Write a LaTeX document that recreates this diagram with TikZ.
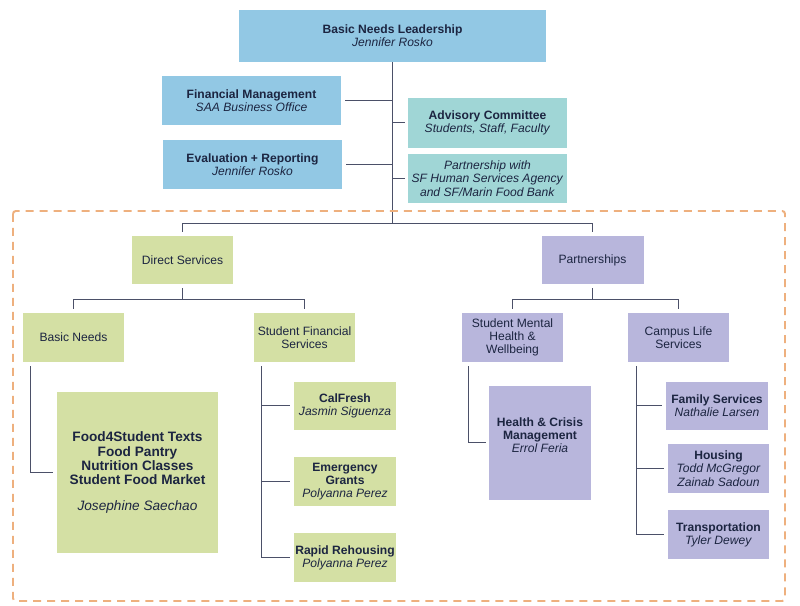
\documentclass[tikz,border=0pt]{standalone}
\usepackage{fontspec}
\setmainfont{Liberation Sans}
\usetikzlibrary{calc, arrows.meta}

\definecolor{bluefill}{RGB}{146,200,228}
\definecolor{tealfill}{RGB}{160,214,214}
\definecolor{greenfill}{RGB}{212,224,164}
\definecolor{lilacfill}{RGB}{184,182,220}
\definecolor{ink}{RGB}{28,37,65}
\definecolor{wire}{RGB}{75,80,104}
\definecolor{dashorange}{RGB}{238,176,126}

\begin{document}
\begin{tikzpicture}[x=0.025cm, y=-0.025cm,
		boxsize/.style 2 args={minimum width=#1*0.025cm, minimum height=#2*0.025cm},
		unit/.style={rectangle, inner sep=1pt, align=center, text=ink, font=\fontsize{8.6}{9.4}\selectfont},
		leadbox/.style={unit, fill=bluefill},
		advbox/.style={unit, fill=tealfill},
		directbox/.style={unit, fill=greenfill},
		partnerbox/.style={unit, fill=lilacfill},
		conn/.style={draw=wire, line width=0.9pt}]
					\useasboundingbox (0,0) rectangle (800,605);
					
					% leadership and advisors
					\node (lead) at (392.5,36) [leadbox, boxsize={307}{52}] {\textbf{Basic Needs Leadership}\\ \textit{Jennifer Rosko}};
					\node (fin) at (251.5,100.5) [leadbox, boxsize={179}{49}] {\textbf{Financial Management}\\ \textit{SAA Business Office}};
					\node (eval) at (252.5,164.5) [leadbox, boxsize={179}{49}] {\textbf{Evaluation + Reporting}\\ \textit{Jennifer Rosko}};
					\node (adv) at (487.5,122.5) [advbox, boxsize={159}{50}] {\textbf{Advisory Committee}\\ \textit{Students, Staff, Faculty}};
					\node (pship) at (487.5,178.5) [advbox, boxsize={159}{49}] {\textit{Partnership with}\\ \textit{SF Human Services Agency}\\ \textit{and SF/Marin Food Bank}};
					
					\coordinate (split) at (392.5,223.5);
					\draw[conn] (lead.south) -- (split);
					\draw[conn, shorten <=0.1cm] (fin.east) -- (fin.east -| split);
					\draw[conn, shorten <=0.1cm] (eval.east) -- (eval.east -| split);
					\draw[conn, shorten >=0.075cm] (adv.west -| split) -- (adv.west);
					\draw[conn, shorten >=0.075cm] (pship.west -| split) -- (pship.west);
					
					% services frame
					\draw[dashorange, line width=1.4pt, dash pattern=on 0.2cm off 0.15cm, rounded corners=2pt] (13,211) rectangle (785,601);
					
					\node (direct) at (182.5,260) [directbox, boxsize={101}{48}] {Direct Services};
					\node (partners) at (592.5,260) [partnerbox, boxsize={102}{48}] {Partnerships};
					\draw[conn, shorten >=0.1cm] (split) -| (direct.north);
					\draw[conn, shorten >=0.1cm] (split) -| (partners.north);
					
					% direct services
					\node (basic) at (73.5,337.5) [directbox, boxsize={101}{49}] {Basic Needs};
					\node (sfs) at (304.5,337.5) [directbox, boxsize={101}{49}] {Student Financial\\ Services};
					\coordinate (dsplit) at (182.5,299.5);
					\draw[conn, shorten <=0.1cm] (direct.south) -- (dsplit);
					\draw[conn, shorten >=0.1cm] (dsplit) -| (basic.north);
					\draw[conn, shorten >=0.1cm] (dsplit) -| (sfs.north);
					
					\node (food) at (137.5,472.5) [directbox, boxsize={161}{161}, font=\fontsize{9.7}{10.2}\selectfont] {\textbf{Food4Student Texts}\\ \textbf{Food Pantry}\\ \textbf{Nutrition Classes}\\ \textbf{Student Food Market}\\[8pt] \textit{Josephine Saechao}};
					\draw[conn, shorten >=0.1cm] ([xshift=0.2cm, yshift=-0.1cm]basic.south west) |- (food.west);
					
					\node (calfresh) at (345,405.5) [directbox, boxsize={102}{48}] {\textbf{CalFresh}\\ \textit{Jasmin Siguenza}};
					\node (grants) at (345,481.5) [directbox, boxsize={102}{49}] {\textbf{Emergency}\\ \textbf{Grants}\\ \textit{Polyanna Perez}};
					\node (rehouse) at (345,557.5) [directbox, boxsize={102}{49}] {\textbf{Rapid Rehousing}\\ \textit{Polyanna Perez}};
					\coordinate (sfsbar) at ([xshift=0.2cm, yshift=-0.1cm]sfs.south west);
					\draw[conn] (sfsbar) -- (sfsbar |- rehouse.west);
					\foreach \t in {calfresh, grants, rehouse}
						\draw[conn, shorten >=0.1cm] (sfsbar |- \t.west) -- (\t.west);
					
					% partnerships
					\node (mental) at (512.5,337.5) [partnerbox, boxsize={101}{49}] {Student Mental\\ Health \&\\ Wellbeing};
					\node (campus) at (678.5,337.5) [partnerbox, boxsize={101}{49}] {Campus Life\\ Services};
					\coordinate (psplit) at (592.5,299.5);
					\draw[conn, shorten <=0.1cm] (partners.south) -- (psplit);
					\draw[conn, shorten >=0.1cm] (psplit) -| (mental.north);
					\draw[conn, shorten >=0.1cm] (psplit) -| (campus.north);
					
					\node (crisis) at (540,442.5) [partnerbox, boxsize={102}{114}] {\textbf{Health \& Crisis}\\ \textbf{Management}\\ \textit{Errol Feria}\\[1pt]\mbox{}};
					\draw[conn, shorten >=0.075cm] ([xshift=0.175cm, yshift=-0.1cm]mental.south west) |- (crisis.west);
					
					\node (family) at (717,405.5) [partnerbox, boxsize={102}{48}] {\textbf{Family Services}\\ \textit{Nathalie Larsen}};
					\node (housing) at (718.5,468.5) [partnerbox, boxsize={101}{49}] {\textbf{Housing}\\ \textit{Todd McGregor}\\ \textit{Zainab Sadoun}};
					\node (transport) at (718.5,534.5) [partnerbox, boxsize={101}{49}] {\textbf{Transportation}\\ \textit{Tyler Dewey}};
					\coordinate (campusbar) at ([xshift=0.225cm, yshift=-0.1cm]campus.south west);
					\draw[conn] (campusbar) -- (campusbar |- transport.west);
					\foreach \t in {family, housing, transport}
						\draw[conn, shorten >=0.1cm] (campusbar |- \t.west) -- (\t.west);
				\end{tikzpicture}
\end{document}
